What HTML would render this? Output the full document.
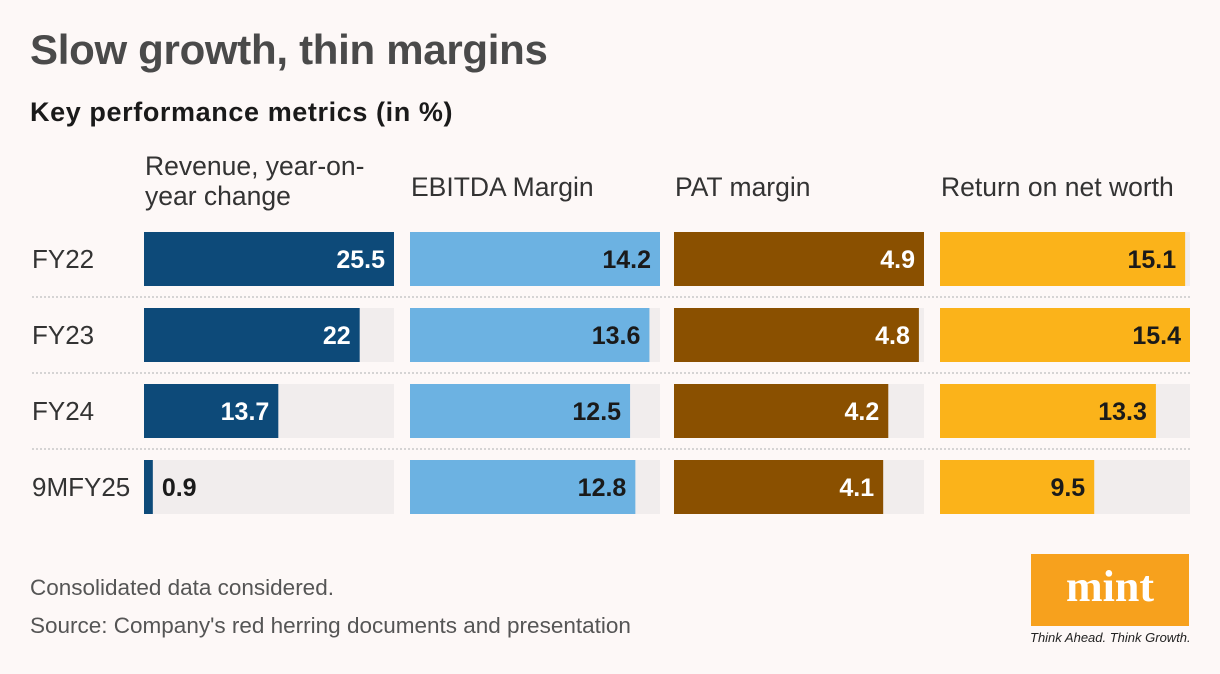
<!DOCTYPE html>
<html><head><meta charset="utf-8"><style>
body{margin:0;background:#fdf8f7;font-family:"Liberation Sans",sans-serif;}
#wrap{position:relative;width:1220px;height:674px;overflow:hidden;background:#fdf8f7;}
.t{position:absolute;white-space:nowrap;}
</style></head><body>
<div id="wrap">
<div class="t" style="left:30px;top:26px;font-size:42px;font-weight:bold;color:#4a4a4a;letter-spacing:-0.3px">Slow growth, thin margins</div>
<div class="t" style="left:30px;top:97px;font-size:27px;font-weight:bold;color:#1a1a1a;letter-spacing:0.6px">Key performance metrics (in %)</div>
<svg id="chart" width="1220" height="560" style="position:absolute;left:0;top:0"></svg>
<div class="t" style="left:30px;top:575px;font-size:22.5px;color:#555">Consolidated data considered.</div>
<div class="t" style="left:30px;top:613px;font-size:22.5px;color:#555">Source: Company's red herring documents and presentation</div>
<div style="position:absolute;left:1031px;top:554px;width:158px;height:72px;background:#f7a11d;color:#fff;font-family:'Liberation Serif',serif;font-weight:bold;font-size:44px;text-align:center;line-height:66px">mint</div>
<div class="t" style="left:1030px;top:630px;font-size:13px;font-style:italic;color:#222">Think Ahead. Think Growth.</div>
</div>
<script>
const rows=["FY22","FY23","FY24","9MFY25"];
const metrics=["Revenue, year-on-|year change","EBITDA Margin","PAT margin","Return on net worth"];
const revenue=[25.5,22,13.7,0.9];
const ebitda=[14.2,13.6,12.5,12.8];
const pat=[4.9,4.8,4.2,4.1];
const ronw=[15.1,15.4,13.3,9.5];
const series=[revenue,ebitda,pat,ronw];
const colors=["#0d4a79","#6cb2e2","#8a5000","#fbb31a"];
const textCol=["#fff","#1a1a1a","#fff","#1a1a1a"];
const colX=[144,410,674,940], W=250, rowY=[232,308,384,460], H=54;
const svg=document.getElementById('chart'), NS="http://www.w3.org/2000/svg";
function mk(t,a){const e=document.createElementNS(NS,t);for(const k in a)e.setAttribute(k,a[k]);svg.appendChild(e);return e;}
metrics.forEach((m,c)=>{m.split("|").forEach((ln,i)=>{const t=mk('text',{x:colX[c]+1,y:(m.includes("|")?175:196)+i*30,'font-size':26.5,fill:'#333','font-family':'Liberation Sans, sans-serif'});t.textContent=ln;

});});
rows.forEach((r,i)=>{
const l=mk('text',{x:32,y:rowY[i]+36,'font-size':26,fill:'#333','font-family':'Liberation Sans, sans-serif'});l.textContent=r;


if(i<rows.length-1){const s=mk('line',{x1:32,x2:1190,y1:rowY[i]+65,y2:rowY[i]+65,stroke:'#c8c8c8','stroke-width':1.5,'stroke-dasharray':'2 2'});

}
series.forEach((vals,c)=>{const mx=Math.max(...vals);
const tr=mk('rect',{x:colX[c],y:rowY[i],width:W,height:H,fill:'#f1eded'});


const w=vals[i]/mx*W;
const b=mk('rect',{x:colX[c],y:rowY[i],width:w,height:H,fill:colors[c]});


const inside=w>60;
const t=mk('text',{x:inside?colX[c]+w-9:colX[c]+w+9,y:rowY[i]+36,'font-size':25,'font-weight':'bold','text-anchor':inside?'end':'start',fill:inside?textCol[c]:'#1a1a1a','font-family':'Liberation Sans, sans-serif'});
t.textContent=vals[i];


});});
</script>
</body></html>
